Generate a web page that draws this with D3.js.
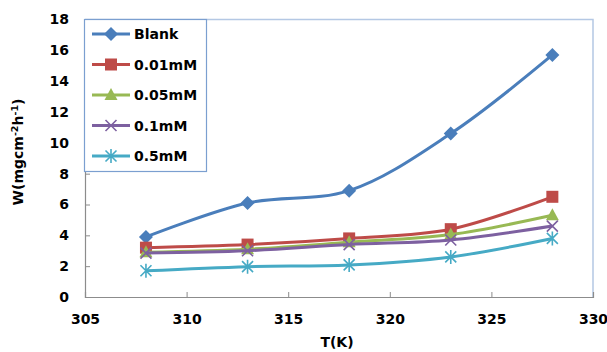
<!DOCTYPE html>
<html>
<head>
<meta charset="utf-8">
<script src="https://cdn.jsdelivr.net/npm/d3@7"></script>
<style>
  body { margin: 0; background: #fff; }
  svg text { font-family: "DejaVu Sans", Verdana, sans-serif; font-weight: bold; fill: #000; }
</style>
</head>
<body>
<div id="chart"></div>
<script>
// chart data
const temps = [308, 313, 318, 323, 328];
const seriesNames = ["Blank", "0.01mM", "0.05mM", "0.1mM", "0.5mM"];
const blank = [3.9, 6.1, 6.9, 10.6, 15.7];
const c001 = [3.2, 3.4, 3.8, 4.4, 6.5];
const c005 = [2.9, 3.1, 3.55, 4.05, 5.3];
const c01 = [2.85, 3.0, 3.4, 3.7, 4.6];
const c05 = [1.7, 1.97, 2.08, 2.6, 3.8];
const xTicks = [305, 310, 315, 320, 325, 330];
const yTicks = [0, 2, 4, 6, 8, 10, 12, 14, 16, 18];

const width = 607, height = 352;
const plot = {left: 85, right: 593, top: 19.5, bottom: 297};

const svg = d3.select("#chart").append("svg")
    .attr("width", width)
    .attr("height", height);

const x = d3.scaleLinear().domain([305, 330]).range([plot.left, plot.right]);
const y = d3.scaleLinear().domain([0, 18]).range([plot.bottom, plot.top]);

// series styles
const styles = [
    {color: "#4A7EBB", marker: "diamond"},
    {color: "#BE4B48", marker: "square"},
    {color: "#98B954", marker: "triangle"},
    {color: "#7D60A0", marker: "cross"},
    {color: "#46AAC5", marker: "star"}
];
const allValues = [blank, c001, c005, c01, c05];

// plot area border (top / right light blue)
svg.append("path")
    .attr("d", `M${plot.left},${plot.top}H${plot.right}V${plot.bottom}`)
    .attr("fill", "none")
    .attr("stroke", "#B4C8E4")
    .attr("stroke-width", 1.5);

// axes
const xAxis = svg.append("g")
    .attr("transform", `translate(0,${plot.bottom})`)
    .call(d3.axisBottom(x).tickValues(xTicks).tickSize(-5).tickPadding(14));
const yAxis = svg.append("g")
    .attr("transform", `translate(${plot.left},0)`)
    .call(d3.axisLeft(y).tickValues(yTicks).tickSize(-5).tickPadding(16));

[xAxis, yAxis].forEach(g => {
    g.select(".domain").attr("stroke", "#8C8C8C").attr("stroke-width", 1.2);
    g.selectAll(".tick line").attr("stroke", "#8C8C8C");
    g.selectAll(".tick text")
        .attr("font-family", "DejaVu Sans")
        .attr("font-weight", "bold")
        .attr("font-size", 14)
        .attr("fill", "#000");
});
xAxis.selectAll(".tick text").attr("dy", "0.95em");

// axis titles
svg.append("text")
    .attr("x", 337)
    .attr("y", 347)
    .attr("text-anchor", "middle")
    .attr("font-size", 14)
    .text("T(K)");

const yTitle = svg.append("text")
    .attr("transform", "translate(23,152) rotate(-90)")
    .attr("text-anchor", "middle")
    .attr("font-size", 14);
yTitle.append("tspan").text("W(mgcm");
yTitle.append("tspan").attr("font-size", 9.5).attr("dy", -5).text("-2");
yTitle.append("tspan").attr("dy", 5).text("h");
yTitle.append("tspan").attr("font-size", 9.5).attr("dy", -5).text("-1");
yTitle.append("tspan").attr("dy", 5).text(")");

// marker drawing
function drawMarker(g, type, color) {
    if (type === "diamond") {
        g.append("path").attr("d", "M0,-7L7,0L0,7L-7,0Z").attr("fill", color);
    } else if (type === "square") {
        g.append("rect").attr("x", -6).attr("y", -6).attr("width", 12).attr("height", 12).attr("fill", color);
    } else if (type === "triangle") {
        g.append("path").attr("d", "M0,-7L6.5,5L-6.5,5Z").attr("fill", color);
    } else if (type === "cross") {
        g.append("path").attr("d", "M-5.5,-5.5L5.5,5.5M-5.5,5.5L5.5,-5.5")
            .attr("stroke", color).attr("stroke-width", 1.6).attr("fill", "none");
    } else if (type === "star") {
        g.append("path").attr("d", "M-5.5,-5.5L5.5,5.5M-5.5,5.5L5.5,-5.5M0,-7L0,7")
            .attr("stroke", color).attr("stroke-width", 1.6).attr("fill", "none");
    }
}

const line = d3.line()
    .x(d => x(d.t))
    .y(d => y(d.v))
    .curve(d3.curveCatmullRom.alpha(0.5));

allValues.forEach((vals, i) => {
    const data = temps.map((t, j) => ({t: t, v: vals[j]}));
    svg.append("path")
        .datum(data)
        .attr("fill", "none")
        .attr("stroke", styles[i].color)
        .attr("stroke-width", 3)
        .attr("d", line);
    data.forEach(d => {
        const m = svg.append("g").attr("transform", `translate(${x(d.t)},${y(d.v)})`);
        drawMarker(m, styles[i].marker, styles[i].color);
    });
});

// legend
const legend = svg.append("g");
legend.append("rect")
    .attr("x", 84.5).attr("y", 19.5)
    .attr("width", 122).attr("height", 152)
    .attr("fill", "#fff")
    .attr("stroke", "#7B9FD0")
    .attr("stroke-width", 1.2);

seriesNames.forEach((name, i) => {
    const item = legend.append("g")
        .attr("transform", `translate(0, ${34 + i * 30.5})`);
    item.append("line")
        .attr("x1", 92).attr("x2", 130)
        .attr("stroke", styles[i].color)
        .attr("stroke-width", 3);
    const m = item.append("g").attr("transform", "translate(111,0)");
    drawMarker(m, styles[i].marker, styles[i].color);
    item.append("text")
        .attr("x", 134)
        .attr("y", 5)
        .attr("font-size", 14)
        .text(name);
});
</script>
</body>
</html>
